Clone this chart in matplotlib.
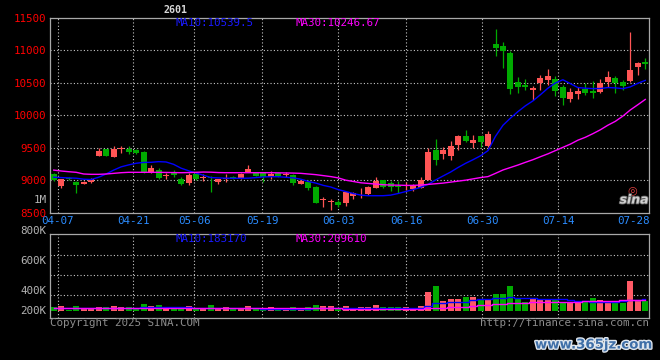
import numpy as np
import matplotlib
matplotlib.use("Agg")
import matplotlib.pyplot as plt
import matplotlib.patheffects as pe
from matplotlib.transforms import blended_transform_factory

# 2601 日K线, 2025-04-03 .. 2025-07-30 (80 根)
opens = [9100, 8920, 9045, 8982, 8950, 8970, 9381, 9485, 9362, 9480,
         9480, 9470, 9440, 9123, 9160, 9070, 9125, 9030, 8966, 9095,
         9035, 9060, 8977, 9030, 9060, 9033, 9130, 9110, 9110, 9060,
         9110, 9080, 9085, 8946, 8982, 8905, 8695, 8670, 8674, 8649,
         8760, 8800, 8788, 8890, 9003, 8957, 8920, 8910, 8870, 8886,
         9008, 9470, 9400, 9380, 9545, 9685, 9580, 9685, 9530, 11100,
         11070, 10966, 10520, 10470, 10392, 10495, 10546, 10562, 10443, 10254,
         10331, 10403, 10380, 10367, 10520, 10582, 10520, 10531, 10742, 10818]
highs = [9110, 9025, 9055, 8990, 8990, 9040, 9495, 9490, 9530, 9530,
         9530, 9480, 9450, 9238, 9195, 9110, 9160, 9054, 9115, 9110,
         9100, 9065, 9030, 9100, 9070, 9110, 9238, 9120, 9115, 9150,
         9130, 9130, 9100, 9030, 9000, 8920, 8740, 8710, 8700, 8825,
         8830, 8880, 8910, 9050, 9010, 8990, 8985, 8980, 8940, 9060,
         9495, 9640, 9510, 9610, 9700, 9780, 9700, 9690, 9760, 11331,
         11126, 10997, 10597, 10560, 10460, 10623, 10715, 10610, 10470, 10418,
         10443, 10495, 10531, 10557, 10685, 10608, 10546, 11290, 10828, 10890]
lows = [8990, 8877, 9000, 8815, 8945, 8960, 9375, 9375, 9360, 9430,
        9400, 9410, 9110, 9118, 9020, 9030, 9060, 8930, 8930, 9010,
        8990, 8828, 8950, 8970, 9020, 9030, 9125, 9065, 8980, 9030,
        9060, 9050, 8930, 8940, 8855, 8655, 8595, 8545, 8597, 8612,
        8720, 8735, 8780, 8880, 8880, 8840, 8810, 8855, 8840, 8880,
        9000, 9240, 9330, 9310, 9470, 9585, 9495, 9520, 9520, 10920,
        10735, 10331, 10350, 10390, 10238, 10392, 10469, 10300, 10162, 10212,
        10254, 10315, 10274, 10351, 10443, 10351, 10392, 10520, 10623, 10710]
closes = [9000, 9018, 9020, 8935, 8980, 9018, 9458, 9381, 9485, 9490,
          9445, 9420, 9120, 9188, 9040, 9080, 9080, 8945, 9085, 9020,
          9045, 9040, 9018, 9038, 9025, 9100, 9170, 9070, 9060, 9100,
          9070, 9088, 8965, 8997, 8880, 8660, 8705, 8680, 8623, 8818,
          8800, 8808, 8905, 8992, 8905, 8905, 8900, 8920, 8925, 9008,
          9443, 9320, 9470, 9530, 9685, 9610, 9625, 9585, 9715, 11034,
          10997, 10408, 10440, 10440, 10418, 10582, 10612, 10382, 10274, 10366,
          10382, 10341, 10341, 10495, 10597, 10495, 10459, 10700, 10803, 10792]

# 均线
ma10 = [9050, 9045, 9040, 9035, 9020, 9015, 9050, 9100, 9160, 9210,
        9240, 9265, 9278, 9280, 9290, 9285, 9249, 9190, 9150, 9115,
        9080, 9045, 9040, 9036, 9034, 9034, 9036, 9045, 9055, 9058,
        9058, 9050, 9040, 9020, 8985, 8960, 8925, 8900, 8860, 8830,
        8800, 8775, 8766, 8766, 8766, 8775, 8800, 8830, 8860, 8895,
        8940, 9008, 9070, 9130, 9200, 9264, 9320, 9380, 9460, 9680,
        9850, 9960, 10060, 10150, 10225, 10320, 10420, 10500, 10550, 10490,
        10430, 10420, 10414, 10415, 10430, 10425, 10413, 10440, 10495, 10540]
ma30 = [9160, 9146, 9135, 9126, 9100, 9095, 9095, 9100, 9110, 9120,
        9126, 9126, 9126, 9126, 9126, 9124, 9122, 9120, 9122, 9126,
        9130, 9128, 9122, 9120, 9120, 9120, 9120, 9120, 9120, 9120,
        9118, 9116, 9114, 9110, 9100, 9090, 9075, 9060, 9040, 9005,
        8985, 8965, 8955, 8945, 8935, 8930, 8928, 8925, 8925, 8930,
        8940, 8950, 8960, 8975, 8990, 9005, 9025, 9045, 9060, 9110,
        9162, 9200, 9238, 9280, 9320, 9366, 9410, 9460, 9510, 9560,
        9620, 9665, 9720, 9780, 9850, 9910, 9990, 10085, 10165, 10247]

# 成交量 (K)
volumes = [62, 78, 20, 78, 36, 36, 62, 62, 78, 62,
           62, 36, 104, 78, 88, 36, 36, 36, 73, 36,
           36, 88, 36, 57, 36, 36, 73, 36, 36, 57,
           36, 11, 57, 11, 57, 88, 73, 73, 36, 78,
           51, 62, 62, 93, 62, 62, 62, 62, 51, 78,
           295, 388, 155, 186, 186, 222, 212, 171, 171, 264,
           264, 388, 186, 144, 186, 186, 171, 186, 144, 129,
           129, 144, 206, 171, 160, 144, 119, 465, 171, 160]
vol_ma10 = [42, 43, 43, 44, 44, 44, 45, 46, 47, 48,
            50, 52, 55, 56, 57, 57, 56, 56, 55, 54,
            52, 50, 48, 46, 44, 42, 42, 40, 36, 32,
            28, 27, 28, 32, 36, 40, 42, 44, 45, 45,
            44, 44, 45, 46, 46, 46, 46, 46, 46, 46,
            78, 119, 129, 132, 134, 140, 171, 181, 188, 196,
            204, 212, 208, 200, 196, 192, 186, 184, 180, 170,
            160, 150, 144, 144, 144, 144, 150, 171, 178, 183]
vol_ma30 = [40, 40, 40, 40, 40, 40, 40, 40, 40, 40,
            40, 40, 40, 40, 40, 40, 40, 40, 40, 40,
            40, 40, 40, 40, 40, 40, 40, 40, 40, 40,
            40, 40, 40, 40, 40, 40, 40, 40, 40, 36,
            36, 36, 36, 36, 36, 36, 36, 36, 36, 36,
            40, 42, 48, 57, 62, 68, 78, 90, 100, 103,
            110, 119, 124, 130, 134, 134, 134, 136, 140, 145,
            145, 148, 150, 155, 158, 160, 165, 171, 175, 178]

tick_pos = [1, 11, 19, 28, 38, 47, 57, 67, 77]
tick_labels = ["04-07", "04-21", "05-06", "05-19", "06-03",
               "06-16", "06-30", "07-14", "07-28"]
price_ticks = [8500, 9000, 9500, 10000, 10500, 11000, 11500]

RED = "#ff5555"
GREEN = "#00aa00"
VRED = "#ff5a66"
GRID = "#c8c8c8"
FRAME = "#a8a8a8"
MONO = "DejaVu Sans Mono"
FS = 7.2

plt.rcParams["font.family"] = MONO

o = np.array(opens); h = np.array(highs); l = np.array(lows); c = np.array(closes)
k = np.arange(len(o))
up = c >= o
cols = np.where(up, RED, GREEN)
vcols = np.where(up, VRED, GREEN)

fig = plt.figure(figsize=(6.6, 3.6), dpi=100, facecolor="black")
W, H = 660.0, 360.0
ax = fig.add_axes([50 / W, 1 - 213 / H, 599 / W, 195 / H], facecolor="black")
axv = fig.add_axes([50 / W, 1 - 318 / H, 599 / W, 84 / H], facecolor="black")

# 日期网格 (Sina 的刻度按 79 等分, K线按 80 等分)
grid_x = -0.5 + np.array(tick_pos) * len(k) / (len(k) - 1)

for a in (ax, axv):
    a.set_xlim(-0.5, len(k) - 0.5)
    for s in a.spines.values():
        s.set_color(FRAME)
        s.set_linewidth(0.9)
    for gx in grid_x[:-1]:
        a.axvline(gx, color=GRID, lw=0.8, ls=(0, (1, 2)), zorder=0)

# 主图
ax.set_ylim(8500, 11500)
for p in price_ticks[1:-1]:
    ax.axhline(p, color=GRID, lw=0.8, ls=(0, (1, 2)), zorder=0)
ax.vlines(k, l, h, colors=cols, lw=0.9, zorder=2)
body_lo = np.minimum(o, c)
body_h = np.maximum(np.abs(c - o), 14)
ax.bar(k, body_h, bottom=body_lo, width=0.8, color=cols, linewidth=0, zorder=3)
ax.plot(k, ma10, color="#0000ff", lw=1.0, zorder=4)
ax.plot(k, ma30, color="#ff00ff", lw=1.0, zorder=4)

ax.set_yticks(price_ticks)
ax.set_yticklabels([str(p) for p in price_ticks])
ax.set_xticks(grid_x)
ax.set_xticklabels(tick_labels)
ax.tick_params(axis="y", length=0, pad=2.5, colors="#ff0000", labelsize=FS + 0.6)
ax.tick_params(axis="x", length=0, pad=2.5, colors="#2b8cff", labelsize=FS + 0.6)

# 成交量
px = 15.5  # K per pixel
axv.set_ylim(-7 * px, 77 * px)
for gy in (16 * px, 36 * px, 56 * px):
    axv.axhline(gy, color=GRID, lw=0.8, ls=(0, (1, 2)), zorder=0)
axv.bar(k, volumes, width=0.8, color=vcols, linewidth=0, zorder=2)
axv.plot(k, vol_ma10, color="#0000ff", lw=1.0, drawstyle="steps-mid", zorder=3)
axv.plot(k, vol_ma30, color="#ff00ff", lw=1.0, drawstyle="steps-mid", zorder=3)
axv.set_xticks([])
axv.set_yticks([])

# 量能刻度 (位置照原图)
tr = blended_transform_factory(axv.transAxes, axv.transData)
for lab, ypx in [("800K", 230.7), ("600K", 260.7), ("400K", 290.7), ("200K", 310.7)]:
    axv.text(-0.006, (311 - ypx) * px, lab, transform=tr, ha="right", va="center",
             color="#b4b4b4", fontsize=FS + 0.6, clip_on=False)

def ftext(x, y, s, **kw):
    fig.text(x / W, 1 - y / H, s, **kw)

ftext(47, 200, "1M", ha="right", va="center", color="#b4b4b4", fontsize=FS + 0.6)
ftext(175, 10, "2601", ha="center", va="center", color="#d8d8d8", fontsize=FS,
      fontweight="bold")
ftext(175, 23.5, "MA10:10539.5", ha="left", va="center", color="#1a1aff", fontsize=FS + 0.6)
ftext(295, 23.5, "MA30:10246.67", ha="left", va="center", color="#ff00ff", fontsize=FS + 0.6)
ftext(175, 238.5, "MA10:183170", ha="left", va="center", color="#1a1aff", fontsize=FS + 0.6)
ftext(295, 238.5, "MA30:209610", ha="left", va="center", color="#ff00ff", fontsize=FS + 0.6)
ftext(50, 323.5, "Copyright 2025 SINA.COM", ha="left", va="center", color="#8c8c8c",
      fontsize=FS + 0.6)
ftext(649, 323.5, "http://finance.sina.com.cn", ha="right", va="center", color="#8c8c8c",
      fontsize=FS + 0.6)

# sina 标志
ftext(632, 190, "\u25ce", ha="center", va="center", color="#e04040", fontsize=8,
      family="DejaVu Sans")
ftext(634, 200, "sina", ha="center", va="center", color="#d0d0d0", fontsize=9,
      family="DejaVu Sans", fontweight="bold", style="italic",
      path_effects=[pe.withStroke(linewidth=1.2, foreground="#606060")])

# 水印
ftext(594, 345, "www.365jz.com", ha="center", va="center", color="#3f6fa8", fontsize=9.6,
      family="DejaVu Sans", fontweight="bold",
      path_effects=[pe.withStroke(linewidth=2.0, foreground="#dfe6ee")])

fig.savefig("out.png", dpi=100, facecolor="black")
